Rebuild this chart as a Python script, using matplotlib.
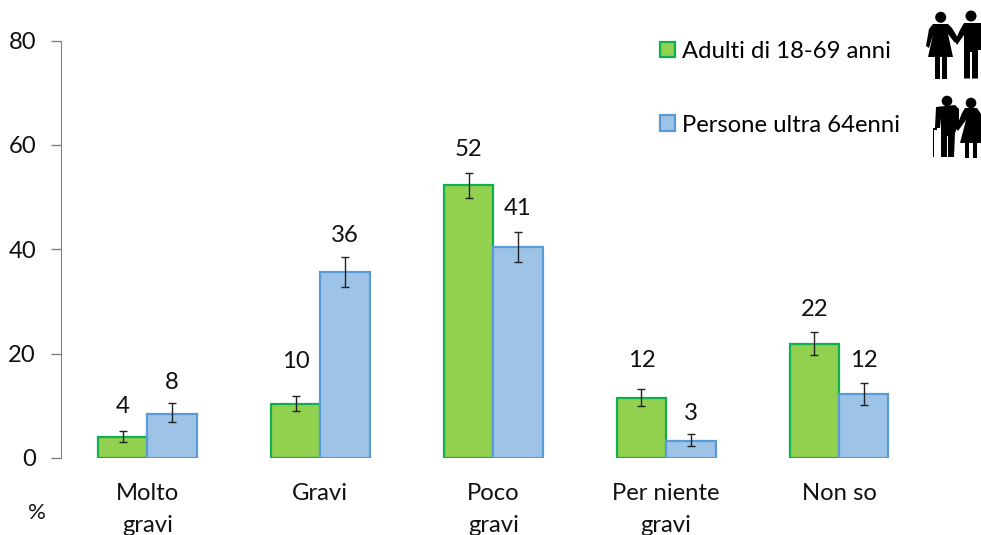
import numpy as np
import matplotlib
matplotlib.use('Agg')
import matplotlib.pyplot as plt
from matplotlib.patches import Polygon, Circle, Rectangle

# DATA
categories = ['Molto\ngravi', 'Gravi', 'Poco\ngravi', 'Per niente\ngravi', 'Non so']
adulti = [4.0, 10.3, 52.3, 11.5, 21.9]
adulti_low = [3.1, 9.0, 49.8, 10.0, 19.7]
adulti_high = [5.1, 11.9, 54.7, 13.2, 24.1]
adulti_labels = ['4', '10', '52', '12', '22']
adulti_label_y = [9.8, 18.5, 59.1, 18.7, 28.4]
ultra = [8.5, 35.6, 40.5, 3.3, 12.2]
ultra_low = [6.9, 32.8, 37.5, 2.3, 10.2]
ultra_high = [10.5, 38.5, 43.4, 4.6, 14.4]
ultra_labels = ['8', '36', '41', '3', '12']
ultra_label_y = [14.4, 42.6, 47.8, 8.6, 18.7]
y_ticks = [0, 20, 40, 60, 80]

W, H = 981, 535
plt.rcParams['font.family'] = ['Lato', 'DejaVu Sans']
plt.rcParams['font.size'] = 17.2

fig = plt.figure(figsize=(W / 100, H / 100), dpi=100)
ax = fig.add_axes([61 / W, 1 - 458 / H, (925.5 - 61) / W, (458 - 40.5) / H])

# BARS
x = np.arange(len(categories))
width = 0.286
green = '#92D050'
green_edge = '#10B050'
blue = '#9DC3E6'
blue_edge = '#5B9BD5'

bars1 = ax.bar(x - width / 2, adulti, width, color=green, edgecolor=green_edge,
               linewidth=1.6, label='Adulti di 18-69 anni')
bars2 = ax.bar(x + width / 2, ultra, width, color=blue, edgecolor=blue_edge,
               linewidth=1.6, label='Persone ultra 64enni')

# error bars
err1 = [np.array(adulti) - np.array(adulti_low), np.array(adulti_high) - np.array(adulti)]
err2 = [np.array(ultra) - np.array(ultra_low), np.array(ultra_high) - np.array(ultra)]
ax.errorbar(x - width / 2, adulti, yerr=err1, fmt='none', ecolor='#222222',
            elinewidth=1, capsize=3, capthick=1)
ax.errorbar(x + width / 2, ultra, yerr=err2, fmt='none', ecolor='#222222',
            elinewidth=1, capsize=3, capthick=1)

# value labels
for i in range(len(categories)):
    ax.text(x[i] - width / 2, adulti_label_y[i], adulti_labels[i], ha='center',
            va='center', color='#111111')
    ax.text(x[i] + width / 2, ultra_label_y[i], ultra_labels[i], ha='center',
            va='center', color='#111111')

# AXES
ax.set_xlim(-0.5, 4.5)
ax.set_ylim(0, 80)
ax.set_yticks(y_ticks)
ax.set_xticks(x)
ax.set_xticklabels(categories, linespacing=1.63)
ax.tick_params(axis='x', length=0, pad=18, colors='#111111')
ax.tick_params(axis='y', length=7, width=1, color='#808080', pad=11, labelcolor='#111111')
for side in ['top', 'right', 'bottom']:
    ax.spines[side].set_visible(False)
ax.spines['left'].set_color('#808080')

fig.text(37 / W, 1 - 513 / H, '%', ha='center', va='center', fontsize=16, color='#111111')

ax.legend(handles=[bars1, bars2], loc='upper left', bbox_to_anchor=(660 / W, 1 - 41 / H),
          bbox_transform=fig.transFigure, frameon=False, handlelength=0.63, handleheight=0.63,
          handletextpad=0.3, labelspacing=2.2, borderpad=0, borderaxespad=0)

# ICONS (pixel overlay)
over = fig.add_axes([0, 0, 1, 1])
over.set_xlim(0, W)
over.set_ylim(H, 0)
over.axis('off')
over.patch.set_alpha(0)


def poly(pts):
    over.add_patch(Polygon(pts, closed=True, fc='black', ec='none'))


def rect(x0, y0, w, h):
    over.add_patch(Rectangle((x0, y0), w, h, fc='black', ec='none'))


# top pair: woman and man
over.add_patch(Circle((940.7, 17.3), 5.5, fc='black', ec='none'))
poly([(933, 24), (948, 24), (952, 28), (958, 38), (955, 43), (948, 34), (953, 57),
      (928, 57), (933, 35), (929, 48), (926, 46), (929, 29)])
rect(934.5, 57, 5, 21.5)
rect(942, 57, 5, 21.5)
over.add_patch(Circle((971, 16), 5.5, fc='black', ec='none'))
poly([(964, 23), (981, 23), (981, 50), (978, 50), (978, 78.5), (972, 78.5), (972, 52),
      (970, 52), (970, 78.5), (964, 78.5), (964, 35), (957, 45), (955, 41), (960, 30)])

# bottom pair: old man with cane and woman
over.add_patch(Circle((947, 101), 5.3, fc='black', ec='none'))
poly([(936, 107), (955, 105), (959, 109), (959, 124), (955, 133), (954, 157), (948, 157),
      (948, 136), (947, 136), (947, 157), (941, 157), (941, 118), (940, 128), (935, 128)])
rect(933, 128, 1.4, 29)
rect(933, 128, 4, 1.6)
over.add_patch(Circle((971, 103), 5.3, fc='black', ec='none'))
poly([(965, 108), (977, 108), (981, 114), (981, 143), (960, 143), (966, 120), (958, 131),
      (956, 128), (962, 113)])
rect(965, 143, 4, 14.5)
rect(973, 143, 4, 14.5)

fig.savefig('out.png', dpi=100)
